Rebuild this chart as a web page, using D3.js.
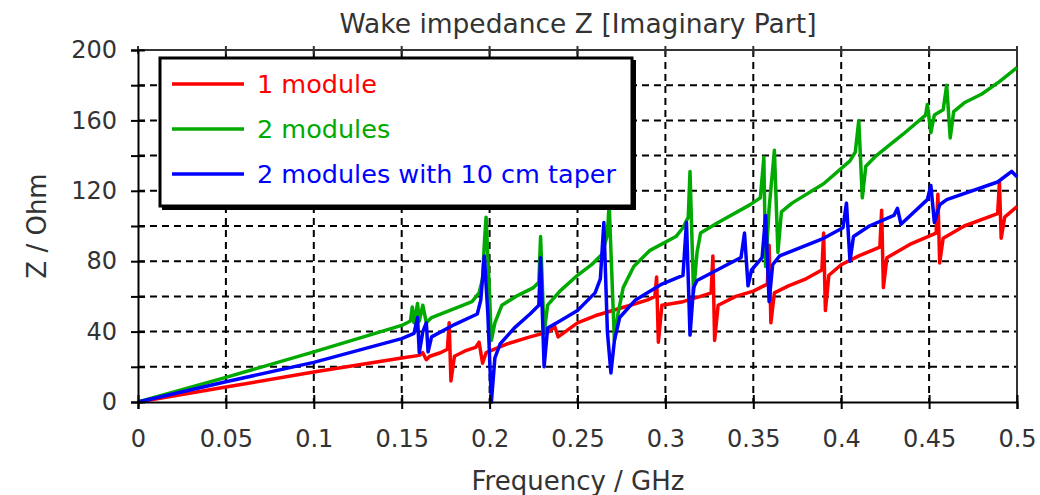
<!DOCTYPE html>
<html>
<head>
<meta charset="utf-8">
<script src="https://cdn.jsdelivr.net/npm/d3@7"></script>
<style>
body { margin: 0; background: #fff; }
svg text { font-family: "DejaVu Sans", Verdana, sans-serif; }
</style>
</head>
<body>
<svg id="chart" width="1040" height="495"></svg>
<script>

// [frequency GHz, Z Ohm]
var module1 = [
	[0,0],[0.05,8.5],[0.1,17],[0.15,25],[0.16,26.5],[0.162,28],[0.164,24],[0.166,26],[0.172,28],[0.176,30],
	[0.177,45],[0.178,12],[0.18,26],[0.186,29],[0.192,31],[0.194,34],[0.196,22],[0.198,28],[0.21,33],[0.223,37],
	[0.234,40],[0.237,43],[0.239,37],[0.25,45],[0.26,49],[0.27,52],[0.28,55],[0.29,58],[0.294,60],
	[0.295,71],[0.296,34],[0.298,55],[0.31,57],[0.32,60],[0.326,62],[0.327,83],[0.328,35],[0.33,55],
	[0.34,60],[0.35,63],[0.358,67],[0.359,89],[0.36,45],[0.362,62],[0.37,66],[0.38,70],[0.389,75],
	[0.39,96],[0.391,52],[0.393,72],[0.4,78],[0.41,83],[0.422,88],[0.423,109],[0.424,65],[0.426,82],
	[0.44,90],[0.454,96],[0.455,118],[0.456,79],[0.458,93],[0.47,100],[0.489,107],[0.49,125],[0.491,93],
	[0.493,105],[0.5,111]
];

var module2 = [
	[0,0],[0.05,14],[0.1,28.5],[0.15,43.5],[0.155,46],[0.156,54],[0.157,45],[0.159,56],[0.16,46],[0.162,55],
	[0.164,45],[0.167,48],[0.18,53],[0.19,57],[0.194,62],[0.196,70],[0.197,90],[0.198,105],[0.2,60],[0.201,35],
	[0.203,45],[0.207,55],[0.215,60],[0.225,65],[0.228,68],[0.229,94],[0.231,39],[0.233,55],[0.24,63],[0.25,72],
	[0.258,78],[0.264,84],[0.267,95],[0.268,113],[0.27,60],[0.271,35],[0.273,50],[0.276,65],[0.282,77],[0.291,86],
	[0.306,94],[0.31,99],[0.313,105],[0.314,131],[0.316,62],[0.318,85],[0.32,96],[0.33,102],[0.348,112],[0.354,116],
	[0.356,139],[0.357,77],[0.359,110],[0.362,143],[0.364,85],[0.366,108],[0.372,113],[0.39,124],[0.405,137],
	[0.408,142],[0.41,160],[0.412,116],[0.414,134],[0.42,140],[0.435,152],[0.448,163],[0.449,169],[0.451,153],
	[0.453,163],[0.458,166],[0.46,180],[0.462,150],[0.464,165],[0.47,170],[0.48,175],[0.49,182],[0.5,190]
];

var taper = [
	[0,0],[0.05,11.5],[0.1,22.5],[0.15,36],[0.157,39],[0.159,48],[0.16,28],[0.162,40],[0.164,45],[0.165,28.5],
	[0.167,37],[0.18,44],[0.193,50],[0.195,58],[0.197,83],[0.199,50],[0.201,0],[0.203,25],[0.206,33],[0.214,42],
	[0.223,50],[0.228,55],[0.229,82],[0.231,20],[0.233,42],[0.24,46],[0.25,52],[0.26,62],[0.263,70],[0.265,102],
	[0.267,40],[0.269,16.5],[0.271,35],[0.274,48],[0.283,58],[0.298,67],[0.31,72],[0.312,102],[0.314,38],[0.316,65],
	[0.318,69],[0.337,79],[0.343,82],[0.345,96],[0.347,66],[0.349,75],[0.355,82],[0.357,106],[0.359,57],[0.361,78],
	[0.365,83],[0.39,93],[0.401,99],[0.403,113],[0.405,80],[0.407,94],[0.416,100],[0.43,106],[0.432,110],[0.434,101],
	[0.449,115],[0.451,123],[0.453,102],[0.456,112],[0.46,115],[0.489,125],[0.497,131],[0.5,128]
];

var seriesNames = ["1 module", "2 modules", "2 modules with 10 cm taper"];
var seriesColors = ["#ff0000", "#00aa00", "#0000ff"];

var xTicks = [0, 0.05, 0.1, 0.15, 0.2, 0.25, 0.3, 0.35, 0.4, 0.45, 0.5];
var yTicks = [0, 40, 80, 120, 160, 200];
var yGrid = [20, 40, 60, 80, 100, 120, 140, 160, 180];

var svg = d3.select("#chart");

var x = d3.scaleLinear([0, 0.5], [138, 1017]);
var y = d3.scaleLinear([0, 200], [402, 50]);

// grid
svg.append("g").selectAll("line")
	.data(xTicks.slice(1, -1))
	.join("line")
	.attr("x1", d => x(d)).attr("x2", d => x(d))
	.attr("y1", y(200)).attr("y2", y(0))
	.attr("stroke", "#000").attr("stroke-width", 2).attr("stroke-dasharray", "7,5");

svg.append("g").selectAll("line")
	.data(yGrid)
	.join("line")
	.attr("x1", x(0)).attr("x2", x(0.5))
	.attr("y1", d => y(d)).attr("y2", d => y(d))
	.attr("stroke", "#000").attr("stroke-width", 2).attr("stroke-dasharray", "7,5");

// frame top / right
svg.append("path")
	.attr("d", `M${x(0)},${y(200)}H${x(0.5)}V${y(0)}`)
	.attr("fill", "none").attr("stroke", "#333").attr("stroke-width", 2);

svg.append("g").selectAll("line")
	.data(xTicks)
	.join("line")
	.attr("x1", d => x(d)).attr("x2", d => x(d))
	.attr("y1", y(200) - 4).attr("y2", y(200) + 4)
	.attr("stroke", "#333").attr("stroke-width", 2);

// data
var line = d3.line(d => x(d[0]), d => y(d[1]));

[module1, module2, taper].forEach((s, i) => {
	svg.append("path")
		.attr("d", line(s))
		.attr("fill", "none")
		.attr("stroke", seriesColors[i])
		.attr("stroke-width", 3.5)
		.attr("stroke-linejoin", "round");
});

// axes
var xaxis = svg.append("g")
	.attr("transform", `translate(0,${y(0)})`)
	.call(d3.axisBottom(x).tickValues(xTicks).tickSize(7).tickPadding(21).tickFormat(d => d));

var yaxis = svg.append("g")
	.attr("transform", `translate(${x(0)},0)`)
	.call(d3.axisLeft(y).tickValues(d3.range(0, 201, 20)).tickSize(7).tickPadding(14)
		.tickFormat(d => yTicks.includes(d) ? d : ""));

[xaxis, yaxis].forEach(a => {
	a.select(".domain").attr("stroke", "#000").attr("stroke-width", 2);
	a.selectAll(".tick line").attr("stroke", "#000").attr("stroke-width", 2);
	a.selectAll("text").attr("font-size", 24).attr("fill", "#333")
		.style("font-family", "'DejaVu Sans', Verdana, sans-serif");
});
xaxis.selectAll(".tick line").attr("y1", -7);
yaxis.selectAll(".tick line").attr("x1", 7);

// titles
svg.append("text")
	.attr("x", 578).attr("y", 33)
	.attr("text-anchor", "middle")
	.attr("font-size", 26.5).attr("fill", "#333")
	.text("Wake impedance Z [Imaginary Part]");

svg.append("text")
	.attr("x", 578).attr("y", 490)
	.attr("text-anchor", "middle")
	.attr("font-size", 26).attr("fill", "#333")
	.text("Frequency / GHz");

svg.append("text")
	.attr("transform", "translate(46,226) rotate(-90)")
	.attr("text-anchor", "middle")
	.attr("font-size", 26).attr("fill", "#333")
	.text("Z / Ohm");

// legend
var lg = svg.append("g");
lg.append("rect")
	.attr("x", 162).attr("y", 60).attr("width", 474).attr("height", 150)
	.attr("fill", "#000");
lg.append("rect")
	.attr("x", 160).attr("y", 58).attr("width", 472).attr("height", 148)
	.attr("fill", "#fff").attr("stroke", "#000").attr("stroke-width", 3);

seriesNames.forEach((n, i) => {
	var yy = 84 + i * 45;
	lg.append("line")
		.attr("x1", 172).attr("x2", 244)
		.attr("y1", yy).attr("y2", yy)
		.attr("stroke", seriesColors[i]).attr("stroke-width", 3.5);
	lg.append("text")
		.attr("x", 257).attr("y", yy + 9)
		.attr("font-size", 25.5).attr("fill", seriesColors[i])
		.text(n);
});

</script>
</body>
</html>
